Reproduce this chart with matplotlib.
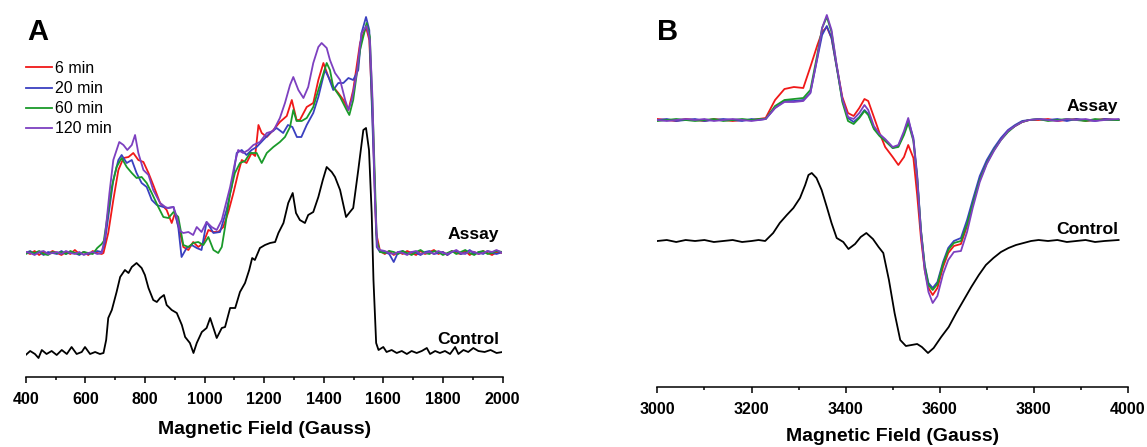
import numpy as np
import matplotlib.pyplot as plt
from matplotlib.ticker import MultipleLocator

plt.rcParams['font.family'] = ['Liberation Sans', 'DejaVu Sans']

# ---- panel A (400-2000 G), heights in px above each baseline
xa_left = [400,415,430,445,460,475,490,505,520,535,550,565,580,595,610,625,640,655]
xa_right = [1605,1620,1635,1650,1665,1680,1695,1710,1725,1740,1755,1770,1785,1800,1815,
            1830,1845,1860,1875,1890,1905,1920,1935,1950,1965,1980,2000]

red_a_left = [1,-1,2,-2,1,-1,2,0,-2,1,-1,3,-1,1,-2,2,0,-1]
red_a_x = [661,677,694,711,728,745,761,778,795,812,828,851,873,890,901,918,929,946,962,979,
           996,1013,1030,1046,1063,1080,1097,1113,1125,1141,1158,1170,1181,1192,1209,1231,1253,1276,1293,1309,
           1320,1343,1365,1382,1399,1416,1432,1449,1466,1483,1499,1522,1542,1553,1564,1576,1589]
red_a_y = [0,20,53,83,95,96,100,93,91,80,68,50,43,30,40,20,6,3,11,6,
           10,23,21,21,26,41,60,80,93,90,100,97,128,120,116,123,131,137,153,133,
           133,146,150,173,190,176,166,160,153,143,163,210,226,213,136,20,2]
red_a_right = [-1,2,-2,1,-1,2,0,-2,2,-1,1,3,-1,1,-2,2,0,-1,2,-2,1,-1,2,0,-2,1,0]

blue_a_left = [0,2,-1,1,-2,1,0,-1,2,-1,1,0,-2,1,-1,0,2,1]
blue_a_x = [665,677,694,711,722,739,756,772,789,806,823,840,862,879,896,912,923,940,957,974,
            990,1007,1018,1030,1052,1074,1091,1108,1125,1141,1158,1175,1197,1220,1242,1264,1280,1295,1310,1325,
            1343,1365,1382,1404,1416,1432,1449,1466,1483,1499,1516,1527,1542,1553,1564,1578,1589]
blue_a_y = [10,36,73,93,98,90,93,80,70,66,53,48,46,45,46,26,-4,5,8,5,
            3,31,26,20,21,43,66,100,103,98,103,106,113,120,125,120,128,126,116,116,
            128,140,156,183,176,163,170,170,175,173,183,220,236,223,126,6,1]
blue_a_right = [1,-1,-9,1,2,-1,1,0,-2,1,2,-1,0,1,-2,1,2,-1,0,3,-1,1,-1,2,0,-1,1]

green_a_left = [-1,1,0,2,-1,-2,1,0,1,-1,2,0,-1,1,0,-1,5,9]
green_a_x = [662,674,689,705,722,739,756,772,789,806,823,845,862,879,896,912,929,946,962,979,
             996,1013,1030,1046,1058,1069,1086,1102,1119,1136,1153,1175,1192,1209,1231,1253,1270,1287,1298,1309,
             1326,1343,1365,1382,1410,1421,1432,1455,1477,1486,1499,1522,1544,1555,1567,1578,1589]
green_a_y = [12,36,66,86,95,86,80,75,76,70,60,46,36,35,41,36,8,6,10,11,
             8,16,3,0,6,26,60,80,90,92,100,100,90,100,106,111,116,126,143,132,
             132,135,146,163,190,183,166,156,143,138,153,203,230,216,120,13,1]
green_a_right = [0,2,1,-1,2,0,-2,1,3,0,-1,2,1,-2,0,2,-1,1,3,0,-2,1,2,-1,0,2,1]

purple_a_left = [1,0,-2,1,2,-1,0,1,-1,2,0,-1,1,-2,0,1,-1,0]
purple_a_x = [666,681,694,714,728,741,756,767,778,795,812,828,851,873,896,907,918,929,946,962,
              974,990,1007,1024,1041,1058,1069,1086,1102,1113,1130,1147,1164,1186,1209,1231,1253,1270,1287,1298,
              1315,1332,1348,1365,1382,1393,1410,1421,1438,1455,1472,1483,1494,1511,1527,1544,1555,1564,1572,1580,1589]
purple_a_y = [16,60,93,111,108,103,108,118,100,83,78,63,50,45,46,36,22,20,21,18,
              26,21,31,26,23,33,46,66,90,103,100,103,108,111,120,122,135,150,168,176,
              163,155,166,190,206,210,205,193,180,173,153,143,153,180,220,227,213,153,53,6,3]
purple_a_right = [2,0,-1,1,0,-2,1,2,-1,0,1,-1,2,0,-1,1,3,0,-1,2,1,-1,0,2,1,3,0]

ctrl_a_x = [400,415,431,443,454,470,487,504,521,538,554,571,588,599,616,633,649,661,670,677,
            689,705,717,733,745,756,772,789,800,812,828,840,851,864,873,890,907,924,935,951,
            963,974,991,1007,1019,1030,1041,1058,1069,1086,1103,1119,1136,1150,1160,1169,1186,1203,1220,1237,
            1248,1265,1281,1296,1307,1320,1337,1348,1365,1382,1397,1410,1427,1438,1455,1475,1488,1499,1516,1533,
            1542,1552,1561,1567,1576,1584,1600,1611,1628,1645,1662,1679,1695,1712,1729,1746,1757,1774,1790,1807,
            1824,1841,1852,1869,1885,1902,1919,1940,1960,1980,2000]
ctrl_a_y = [-2,2,-1,-5,3,-1,2,-2,3,-1,6,-1,1,6,-1,1,-1,0,13,35,
            43,61,76,83,80,86,90,85,78,65,53,51,55,58,48,43,40,28,16,10,
            0,10,21,25,35,25,15,25,26,45,45,61,70,83,95,93,105,108,110,111,
            120,130,150,160,140,133,130,138,141,156,173,186,181,176,163,136,141,145,183,223,
            225,203,140,73,10,3,6,1,3,0,2,-1,2,0,2,5,-1,2,0,2,
            -1,6,-1,3,1,5,2,1,3,0,1]

# ---- panel B (3000-4000 G)
xb = [3000,3020,3040,3060,3080,3100,3120,3140,3160,3180,3200,3215,3230,
      3250,3270,3290,3310,3325,3340,3350,3360,3370,3380,
      3393,3405,3417,3429,3440,3448,3460,3472,3484,3500,3512,3524,3533,
      3544,3552,3560,3568,3576,3585,3595,3607,3618,3630,3645,3658,3670,3685,3700,
      3715,3730,3745,3760,3775,3790,3810,3830,3850,3870,3890,3910,3930,3950,3980]
red_b = [1,0,-1,1,0,-1,1,0,-1,0,0,1,2,
         20,31,33,32,53,75,88,93,82,56,
         23,7,4,12,21,19,3,-13,-27,-37,-45,-37,-25,
         -38,-75,-118,-150,-168,-175,-168,-147,-133,-126,-124,-106,-84,-59,-42,
         -30,-19,-11,-6,-2,0,0,1,-1,0,1,-1,0,1,0]
blue_b = [0,1,-1,0,1,-1,0,1,0,-1,1,0,1,
          12,19,19,20,27,62,85,94,82,55,
          20,2,-2,3,10,6,-8,-15,-20,-28,-26,-13,0,
          -18,-55,-110,-145,-163,-168,-162,-142,-128,-121,-118,-100,-80,-56,-40,
          -28,-18,-10,-5,-1,0,1,0,1,-1,1,0,-1,1,0]
green_b = [-1,0,1,0,-1,0,1,-1,0,1,0,1,1,
           14,20,21,22,30,66,92,103,88,57,
           18,-1,-4,2,9,5,-9,-16,-21,-28,-27,-15,-3,
           -21,-58,-110,-146,-165,-170,-164,-144,-130,-123,-121,-104,-84,-60,-43,
           -30,-20,-12,-6,-2,0,1,-1,0,1,0,-1,1,0,0]
purple_b = [0,-1,0,1,0,1,-1,0,1,0,-1,0,1,
            12,18,18,19,27,63,92,105,90,58,
            21,3,1,7,15,10,-6,-14,-19,-27,-25,-11,2,
            -20,-58,-112,-150,-172,-183,-176,-154,-140,-132,-131,-112,-88,-62,-44,
            -31,-20,-11,-6,-2,0,1,0,-1,1,0,1,-1,0,1]

ctrl_b_x = [3000,3020,3040,3060,3080,3100,3120,3140,3160,3180,3200,3215,3229,
            3246,3260,3275,3289,3303,3314,3321,3328,3338,3349,3360,3370,3381,3395,3406,3420,3432,
            3444,3458,3470,3480,3492,3504,3516,3528,3540,3552,3562,3575,3587,
            3603,3619,3635,3651,3667,3683,3698,3714,3730,3746,3762,3778,3794,
            3810,3830,3850,3870,3890,3910,3930,3950,3980]
ctrl_b_y = [0,1,-1,1,0,1,-1,0,1,-1,0,1,0,
            8,18,26,33,43,56,66,68,63,51,34,18,3,-1,-8,-3,4,
            8,2,-6,-12,-39,-72,-99,-105,-104,-103,-106,-112,-107,
            -96,-86,-72,-59,-46,-34,-24,-17,-11,-7,-4,-2,0,
            1,0,1,-1,0,1,-1,0,1]

labels = ['6 min', '20 min', '60 min', '120 min']
colors = ['#f01818', '#3a40c0', '#1a9a2a', '#7d40c0']

W, H = 1147, 447
fig = plt.figure(figsize=(W/100, H/100), dpi=100)
axA = fig.add_axes([25.7/W, 70/H, 476.8/W, 377/H])
axB = fig.add_axes([657.4/W, 60/H, 470.6/W, 387/H])

lw = 1.3
offA_assay, offA_ctrl = 124, 24
series_a = [(red_a_left, red_a_x, red_a_y, red_a_right),
            (blue_a_left, blue_a_x, blue_a_y, blue_a_right),
            (green_a_left, green_a_x, green_a_y, green_a_right),
            (purple_a_left, purple_a_x, purple_a_y, purple_a_right)]
for (yl, xm, ym, yr), c, lab in zip(series_a, colors, labels):
    x = np.array(xa_left + xm + xa_right)
    y = np.array(yl + ym + yr) + offA_assay
    axA.plot(x, y, color=c, lw=lw, label=lab)
axA.plot(ctrl_a_x, np.array(ctrl_a_y) + offA_ctrl, color='black', lw=lw)
axA.set_xlim(400, 2000)
axA.set_ylim(0, 377)

offB_assay, offB_ctrl = 267, 146
for yb, c in zip([red_b, blue_b, green_b, purple_b], colors):
    axB.plot(xb, np.array(yb) + offB_assay, color=c, lw=lw)
axB.plot(ctrl_b_x, np.array(ctrl_b_y) + offB_ctrl, color='black', lw=lw)
axB.set_xlim(3000, 4000)
axB.set_ylim(0, 387)

for ax, h, lab_top in [(axA, 377, 44), (axB, 387, 41)]:
    for s in ['left', 'right', 'top']:
        ax.spines[s].set_visible(False)
    ax.spines['bottom'].set_linewidth(1.1)
    ax.set_yticks([])
    ax.xaxis.set_major_locator(MultipleLocator(200))
    ax.xaxis.set_minor_locator(MultipleLocator(100))
    ax.tick_params(axis='x', which='major', direction='out', length=4.5, width=1.1, pad=6,
                   labelsize=11.5)
    ax.tick_params(axis='x', which='minor', direction='out', length=2.5, width=1.1)
    for t in ax.get_xticklabels():
        t.set_fontweight('bold')
    ax.set_xlabel('Magnetic Field (Gauss)', fontsize=14, fontweight='bold')
    ax.xaxis.set_label_coords(0.5, -lab_top/h)
    ax.patch.set_visible(False)

lab_kw = dict(fontsize=12.6, fontweight='bold', ha='right', va='center')
axA.text(1990, 142, 'Assay', **lab_kw)
axA.text(1990, 38, 'Control', **lab_kw)
axB.text(3979, 280, 'Assay', **lab_kw)
axB.text(3979, 158, 'Control', **lab_kw)

fig.text(27/W, 1 - 18/H, 'A', fontsize=21, fontweight='bold', ha='left', va='top')
fig.text(657/W, 1 - 18/H, 'B', fontsize=21, fontweight='bold', ha='left', va='top')

axA.legend(loc='upper left', bbox_to_anchor=(26/W, 1 - 61/H), bbox_transform=fig.transFigure,
           frameon=False, fontsize=11.5, handlelength=1.6, handletextpad=0.2,
           labelspacing=0.32, borderpad=0, borderaxespad=0)

fig.savefig('out.png', dpi=100)
